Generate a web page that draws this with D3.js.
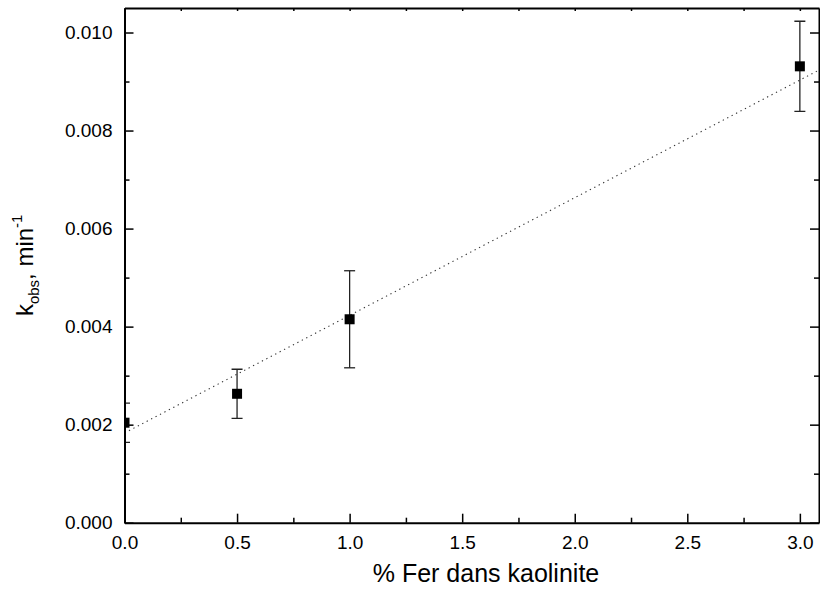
<!DOCTYPE html>
<html>
<head>
<meta charset="utf-8">
<script src="https://cdn.jsdelivr.net/npm/d3@7"></script>
<style>
  html, body { margin: 0; padding: 0; background: #fff; }
  svg { display: block; font-family: "Liberation Sans", Arial, sans-serif; }
</style>
</head>
<body>
<svg id="chart" width="820" height="590"></svg>
<script>
// ---- data ----
const ironPct = [0, 0.5, 1.0, 3.0];
const kobs = [0.00204, 0.00263, 0.00415, 0.00931];
const kobsErr = [0.0004, 0.0005, 0.00099, 0.00092];
const fitIntercept = 0.00183;
const fitSlope = 0.0024;
const xMajorTicks = [0, 0.5, 1.0, 1.5, 2.0, 2.5, 3.0];
const xMinorTicks = [0.25, 0.75, 1.25, 1.75, 2.25, 2.75];
const yMajorTicks = [0, 0.002, 0.004, 0.006, 0.008, 0.010];
const yMinorTicks = [0.001, 0.003, 0.005, 0.007, 0.009];
const xTitle = "% Fer dans kaolinite";

// ---- layout ----
const L = 124.5, R = 819, T = 8, B = 522.7;
const svg = d3.select("#chart");
const x = d3.scaleLinear().domain([0, 3.085]).range([L, R]);
const y = d3.scaleLinear().domain([0, 0.0105]).range([B, T]);

svg.append("defs").append("clipPath").attr("id", "plotclip")
  .append("rect").attr("x", L).attr("y", T).attr("width", R - L).attr("height", B - T);

const plot = svg.append("g").attr("clip-path", "url(#plotclip)");

// fit line
const fitPts = [0, 3.085].map(v => [v, fitIntercept + fitSlope * v]);
plot.append("path")
  .attr("d", d3.line().x(d => x(d[0])).y(d => y(d[1]))(fitPts))
  .attr("fill", "none").attr("stroke", "#333").attr("stroke-width", 1.1)
  .attr("stroke-dasharray", "1.3,3.7");

// error bars
const pts = ironPct.map((v, i) => ({ x: v, y: kobs[i], e: kobsErr[i] }));
const capW = 5.5;
const eb = plot.selectAll("g.eb").data(pts).join("g").attr("class", "eb")
  .attr("stroke", "#222").attr("stroke-width", 1.3);
eb.append("line").attr("x1", d => x(d.x)).attr("x2", d => x(d.x))
  .attr("y1", d => y(d.y - d.e)).attr("y2", d => y(d.y + d.e));
eb.append("line").attr("x1", d => x(d.x) - capW).attr("x2", d => x(d.x) + capW)
  .attr("y1", d => y(d.y + d.e)).attr("y2", d => y(d.y + d.e));
eb.append("line").attr("x1", d => x(d.x) - capW).attr("x2", d => x(d.x) + capW)
  .attr("y1", d => y(d.y - d.e)).attr("y2", d => y(d.y - d.e));

// markers
const ms = 10;
plot.selectAll("rect.m").data(pts).join("rect").attr("class", "m")
  .attr("x", d => x(d.x) - ms / 2).attr("y", d => y(d.y) - ms / 2)
  .attr("width", ms).attr("height", ms).attr("fill", "#000");

// ---- axes ----
function styleAxis(g) {
  g.selectAll("path.domain").attr("stroke", "#000").attr("stroke-width", 2);
  g.selectAll(".tick line").attr("stroke", "#000").attr("stroke-width", 1.5);
  g.selectAll(".tick text").attr("fill", "#000").attr("font-size", 19)
    .attr("font-family", '"Liberation Sans", Arial, sans-serif');
}

// bottom
svg.append("g").attr("transform", `translate(0,${B})`)
  .call(d3.axisBottom(x).tickValues(xMinorTicks).tickSizeInner(-5).tickSizeOuter(0).tickFormat(""))
  .call(styleAxis).call(g => g.select(".domain").remove());
svg.append("g").attr("transform", `translate(0,${B})`)
  .call(d3.axisBottom(x).tickValues(xMajorTicks).tickSizeInner(-9).tickSizeOuter(0)
    .tickPadding(13).tickFormat(d3.format(".1f")))
  .call(styleAxis);

// top
svg.append("g").attr("transform", `translate(0,${T})`)
  .call(d3.axisTop(x).tickValues(xMajorTicks.concat(xMinorTicks)).tickSizeInner(-3).tickSizeOuter(0).tickFormat(""))
  .call(styleAxis);

// left
svg.append("g").attr("transform", `translate(${L},0)`)
  .call(d3.axisLeft(y).tickValues(yMinorTicks).tickSizeInner(-5).tickSizeOuter(0).tickFormat(""))
  .call(styleAxis).call(g => g.select(".domain").remove());
svg.append("g").attr("transform", `translate(${L},0)`)
  .call(d3.axisLeft(y).tickValues(yMajorTicks).tickSizeInner(-9).tickSizeOuter(0)
    .tickPadding(12).tickFormat(d3.format(".3f")))
  .call(styleAxis);

// right
svg.append("g").attr("transform", `translate(${R},0)`)
  .call(d3.axisRight(y).tickValues(yMinorTicks).tickSizeInner(-5).tickSizeOuter(0).tickFormat(""))
  .call(styleAxis).call(g => g.select(".domain").remove());
svg.append("g").attr("transform", `translate(${R},0)`)
  .call(d3.axisRight(y).tickValues(yMajorTicks).tickSizeInner(-9).tickSizeOuter(0).tickFormat(""))
  .call(styleAxis);

// ---- titles ----
svg.append("text").attr("x", 486).attr("y", 582)
  .attr("text-anchor", "middle").attr("font-size", 25).attr("fill", "#000")
  .text(xTitle);

const yt = svg.append("text")
  .attr("transform", `translate(33,${(T + B) / 2}) rotate(-90)`)
  .attr("text-anchor", "middle").attr("font-size", 24).attr("fill", "#000");
yt.append("tspan").text("k");
yt.append("tspan").attr("font-size", 15).attr("dy", 6).text("obs");
yt.append("tspan").attr("dy", -6).text(", min");
yt.append("tspan").attr("font-size", 15).attr("dy", -11).text("-1");
</script>
</body>
</html>
